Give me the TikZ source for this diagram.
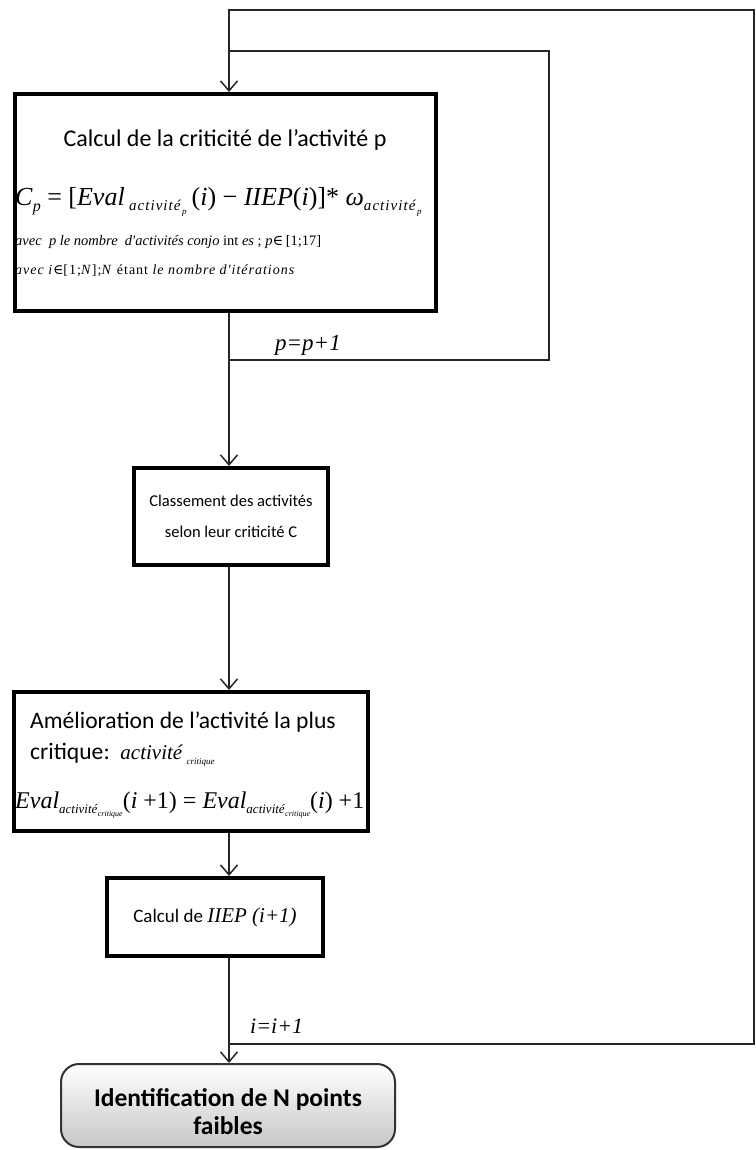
\documentclass[tikz,border=0pt]{standalone}
\usepackage{fontspec}
\setmainfont{Carlito}
\newfontfamily\tnr{Liberation Serif}
\newfontfamily\tnrsp{Liberation Serif}[LetterSpace=7]
\newfontfamily\dvs{DejaVu Serif}
\usetikzlibrary{arrows.meta}
\newcommand\fs[1]{\fontsize{#1}{#1}\selectfont}
\newcommand\lowsub[3]{\raisebox{#1}{\fs{#2}#3}}
\begin{document}
\begin{tikzpicture}[x=1pt,y=-1pt,
  box/.style={draw=black,line width=4pt,fill=white,inner sep=0pt},
  endbox/.style={draw=black!80,line width=2pt,rounded corners=18pt,top color=white,bottom color=black!22,inner sep=0pt},
  conn/.style={draw=black!85,line width=1.5pt},
  arr/.style={conn,-{Straight Barb[length=10pt,width=17pt,line width=1.5pt]}},
  txt/.style={inner sep=0pt,anchor=base},
  txtw/.style={inner sep=0pt,anchor=base west},
]
\useasboundingbox (0,0) rectangle (755,1150);
% boxes
\node[box,minimum width=421pt,minimum height=217pt] (b1) at (225.5,202.5) {};
\node[box,minimum width=194pt,minimum height=97pt] (b2) at (231,516.5) {};
\node[box,minimum width=354pt,minimum height=139pt] (b3) at (191,761.5) {};
\node[box,minimum width=216pt,minimum height=78pt] (b4) at (215,917) {};
\node[endbox,minimum width=334pt,minimum height=83pt] (b5) at (228,1105.5) {};
% spine
\coordinate (sp) at (229,0);
\coordinate (pj) at (229,360);
\coordinate (ij) at (229,1044);
\coordinate (pr) at (549,51);
\coordinate (ir) at (754,10);
% connectors
\draw[arr] (ij) -| (ir) -| (sp |- b1.north);
\draw[conn] (pj) -| (pr) -- (sp |- pr);
\draw[arr] (sp |- b1.south) -- (sp |- b2.north);
\draw[arr] (sp |- b2.south) -- (sp |- b3.north);
\draw[arr] (sp |- b3.south) -- (sp |- b4.north);
\draw[arr] (sp |- b4.south) -- (sp |- b5.north);
% box 1 text
\node[txt] (t1a) at (225,147) {\fs{24}Calcul de la criticité de l’activité p};
\node[txtw] (t1b) at (15,206) {\tnr\fs{26}\textit{C}\lowsub{-6pt}{16}{\textit{p}}\ = [\textit{Eval}\,\lowsub{-5pt}{15}{\tnrsp\textit{activité}\lowsub{-4pt}{9}{\textit{p}}}\,(\textit{i}) − \textit{IIEP}(\textit{i})]* \textit{ω}\lowsub{-5pt}{15}{\tnrsp\textit{activité}\lowsub{-4pt}{9}{\textit{p}}}};
\node[txtw] (t1c) at (15,245) {\tnr\fs{14.5}\textit{avec\ \ p le nombre\ \ d'activités conjo} int \textit{es} ; \textit{p}{\dvs ∈}\,[1;17]};
\node[txtw] (t1d) at (15,274) {\tnrsp\fs{14}\textit{avec i}{\dvs ∈}[1;\textit{N}];\textit{N} étant \textit{le nombre d'itérations}};
% box 2 text
\node[txt] (t2a) at (231,506) {\fs{16.5}Classement des activités};
\node[txt] (t2b) at (231,537) {\fs{16.5}selon leur criticité C};
% box 3 text
\node[txtw] (t3a) at (30,728) {\fs{23.6}Amélioration de l’activité la plus};
\node[txtw] (t3b) at (30,759) {\fs{23.6}critique:\ \ {\tnr\fs{21}\textit{activité}\,\lowsub{-5pt}{9}{\textit{critique}}}};
\node[txtw] (t3c) at (15,808) {\tnr\fs{24}\textit{Eval}\lowsub{-5pt}{13}{\textit{activité}\lowsub{-3pt}{8}{\textit{critique}}}(\textit{i} +1) = \textit{Eval}\lowsub{-5pt}{13}{\textit{activité}\lowsub{-3pt}{8}{\textit{critique}}}(\textit{i}) +1};
% box 4 text
\node[txt] (t4) at (215,922) {\fs{19}Calcul de {\tnr\fs{21}\textit{IIEP (i+1)}}};
% loop labels
\node[txtw] (lp) at (275,350) {\tnr\fs{23}\textit{p=p+1}};
\node[txtw] (li) at (250,1033) {\tnr\fs{22}\textit{i=i+1}};
% end box text
\node[txt] (t5a) at (228,1106) {\fs{25.5}\bfseries Identification de N points};
\node[txt] (t5b) at (228,1134) {\fs{25.5}\bfseries faibles};
\end{tikzpicture}
\end{document}
